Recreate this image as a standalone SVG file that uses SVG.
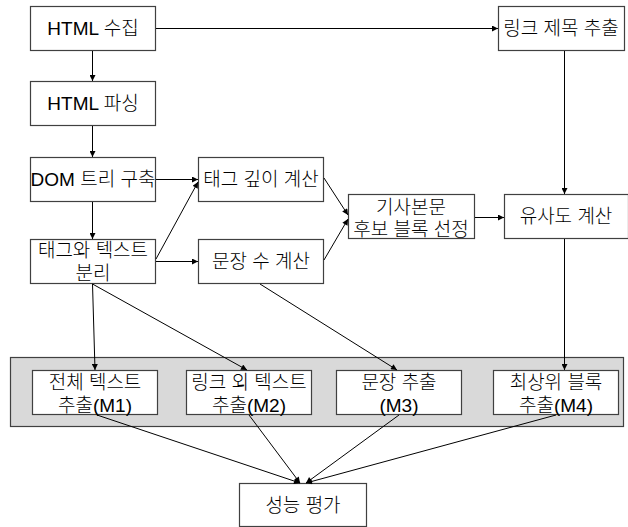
<svg xmlns="http://www.w3.org/2000/svg" width="628" height="527" viewBox="0 0 628 527">
<style>
  .box { fill: #ffffff; stroke: #404040; stroke-width: 1.2; }
  .grp { fill: #d9d9d9; stroke: #404040; stroke-width: 1.2; }
  text { font-family: "Liberation Sans", "Noto Sans CJK KR", sans-serif; font-size: 19px; font-weight: 300; fill: #000000; text-anchor: middle; }
  .c line { stroke: #000000; stroke-width: 1; fill: none; marker-end: url(#ah); }
</style>
<defs>
  <marker id="ah" viewBox="0 0 10 10" refX="10" refY="5" markerWidth="7" markerHeight="6" markerUnits="userSpaceOnUse" orient="auto">
    <path d="M0,0 L10,5 L0,10 z" fill="#000000"/>
  </marker>
</defs>
<rect width="628" height="527" fill="#ffffff"/>

<g id="group-container">
  <rect class="grp" x="10.5" y="357.5" width="613" height="69"/>
</g>

<g id="n-html-collect">
  <rect class="box" x="30.5" y="6.5" width="125" height="44"/>
  <text x="93" y="35">HTML 수집</text>
</g>
<g id="n-html-parse">
  <rect class="box" x="30.5" y="81.5" width="125" height="44"/>
  <text x="93" y="110">HTML 파싱</text>
</g>
<g id="n-dom">
  <rect class="box" x="30.5" y="157.5" width="125" height="44"/>
  <text x="93" y="186">DOM 트리 구축</text>
</g>
<g id="n-split">
  <rect class="box" x="30.5" y="239.5" width="125" height="44"/>
  <text x="93" y="256.5">태그와 텍스트</text>
  <text x="93" y="280">분리</text>
</g>
<g id="n-depth">
  <rect class="box" x="198.5" y="157.5" width="125" height="44"/>
  <text x="261" y="186">태그 깊이 계산</text>
</g>
<g id="n-sentcount">
  <rect class="box" x="198.5" y="239.5" width="125" height="44"/>
  <text x="261" y="268">문장 수 계산</text>
</g>
<g id="n-candidate">
  <rect class="box" x="348.5" y="194.5" width="126" height="44"/>
  <text x="411" y="213.5">기사본문</text>
  <text x="411" y="235.5">후보 블록 선정</text>
</g>
<g id="n-similarity">
  <rect class="box" x="504.5" y="194.5" width="124" height="44"/>
  <text x="566" y="223">유사도 계산</text>
</g>
<g id="n-linktitle">
  <rect class="box" x="498.5" y="6.5" width="126" height="44"/>
  <text x="561" y="35">링크 제목 추출</text>
</g>
<g id="n-m1">
  <rect class="box" x="32.5" y="370.5" width="125" height="44"/>
  <text x="95" y="388.5">전체 텍스트</text>
  <text x="95" y="411.5">추출(M1)</text>
</g>
<g id="n-m2">
  <rect class="box" x="186.5" y="370.5" width="125" height="44"/>
  <text x="249" y="388.5">링크 외 텍스트</text>
  <text x="249" y="411.5">추출(M2)</text>
</g>
<g id="n-m3">
  <rect class="box" x="336.5" y="370.5" width="125" height="44"/>
  <text x="399" y="388.5">문장 추출</text>
  <text x="399" y="411.5">(M3)</text>
</g>
<g id="n-m4">
  <rect class="box" x="493.5" y="370.5" width="125" height="44"/>
  <text x="556" y="388.5">최상위 블록</text>
  <text x="556" y="411.5">추출(M4)</text>
</g>
<g id="n-eval">
  <rect class="box" x="239.5" y="483.5" width="127" height="43"/>
  <text x="303" y="511.5">성능 평가</text>
</g>

<g id="connectors" class="c">
  <line x1="156" y1="28.5" x2="498" y2="28.5"/>
  <line x1="92.5" y1="51" x2="92.5" y2="81"/>
  <line x1="92.5" y1="126" x2="92.5" y2="157"/>
  <line x1="92.5" y1="202" x2="92.5" y2="239"/>
  <line x1="156" y1="179.5" x2="198" y2="179.5"/>
  <line x1="156" y1="259" x2="198" y2="182"/>
  <line x1="156" y1="261.5" x2="198" y2="261.5"/>
  <line x1="324" y1="178" x2="348" y2="215"/>
  <line x1="324" y1="260" x2="348" y2="219"/>
  <line x1="475" y1="217.5" x2="504" y2="217.5"/>
  <line x1="564.5" y1="51" x2="564.5" y2="194"/>
  <line x1="564.5" y1="239" x2="564.5" y2="370"/>
  <line x1="92.5" y1="284" x2="95" y2="370"/>
  <line x1="92.5" y1="284" x2="247" y2="370"/>
  <line x1="260" y1="284" x2="397" y2="370"/>
  <line x1="97" y1="415" x2="300" y2="483"/>
  <line x1="249" y1="415" x2="300" y2="483"/>
  <line x1="399" y1="415" x2="306" y2="483"/>
  <line x1="556" y1="415" x2="306" y2="483"/>
</g>
</svg>
